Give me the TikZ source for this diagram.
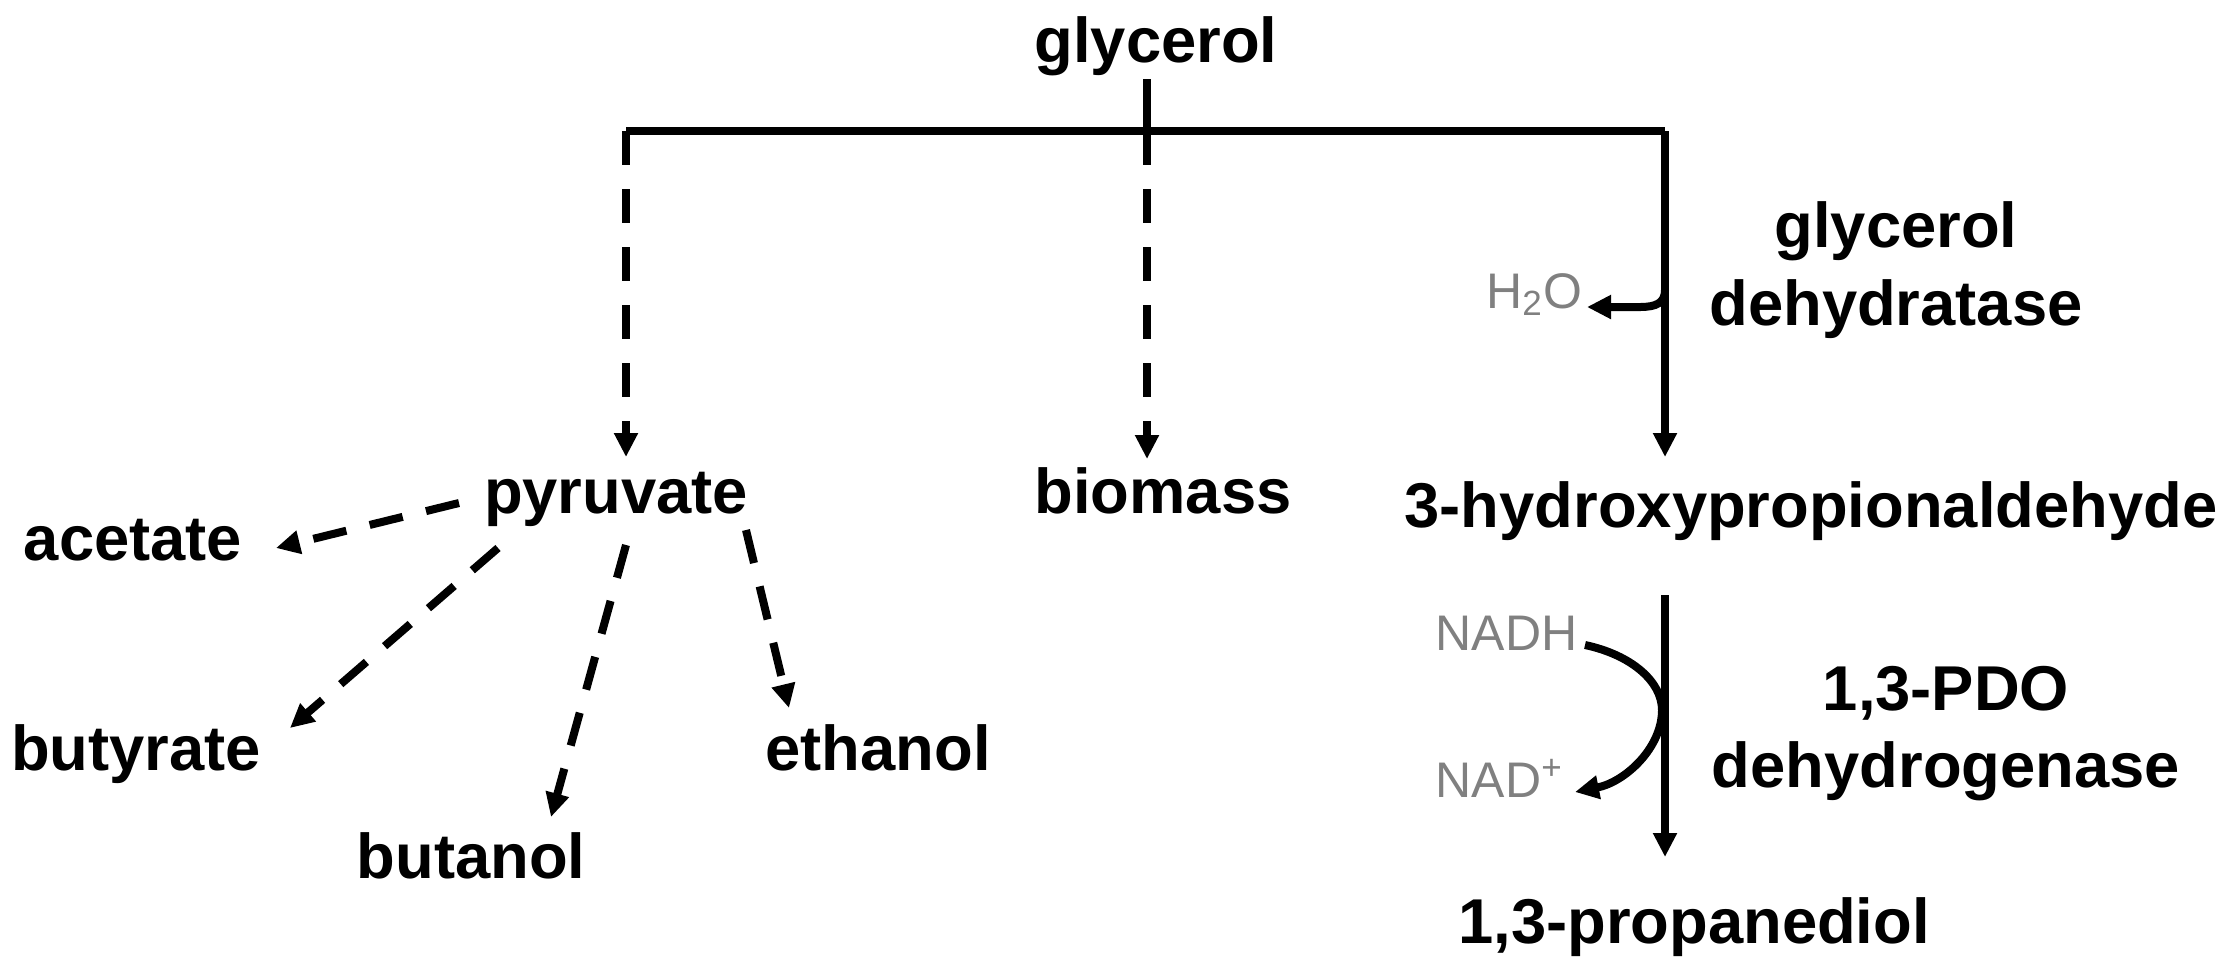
\documentclass[tikz,border=0pt]{standalone}
\usepackage{fontspec}
\setmainfont{Liberation Sans}
\usetikzlibrary{arrows.meta}
\definecolor{cofac}{RGB}{128,128,128}
\begin{document}
\begin{tikzpicture}[x=0.3pt,y=-0.3pt,
  lab/.style={font=\bfseries\fontsize{19}{23}\selectfont, inner sep=0pt, anchor=base},
  cof/.style={font=\fontsize{15}{18}\selectfont, text=cofac, inner sep=0pt},
  tip/.style={-{Triangle[width=6.8pt,length=7.2pt]}},
  flow/.style={line width=2.4pt, tip},
  dflow/.style={flow, dash pattern=on 10.2pt off 7.2pt},
  ]
\useasboundingbox (0,0) rectangle (2235,968);
% metabolites
\node[lab] (gly) at (1156,62) {glycerol};
\node[lab] (pyr) at (616,513) {pyruvate};
\node[lab] (bio) at (1163,513) {biomass};
\node[lab] (hpa) at (1811,527) {3-hydroxypropionaldehyde};
\node[lab] (pdo) at (1694,943) {1,3-propanediol};
\node[lab] (ace) at (133,560) {acetate};
\node[lab] (but) at (136,770) {butyrate};
\node[lab] (bol) at (471,878) {butanol};
\node[lab] (eth) at (878,770) {ethanol};
% enzymes
\node[lab] (gd1) at (1896,247) {glycerol};
\node[lab] (gd2) at (1896,325) {dehydratase};
\node[lab] (pd1) at (1946,710) {1,3-PDO};
\node[lab] (pd2) at (1946,787) {dehydrogenase};
% cofactors
\node[cof, anchor=base east] (h2o) at (1583,308) {H\textsubscript{2}O};
\node[cof, anchor=base west] (nadh) at (1435,650) {NADH};
\node[cof, anchor=base west] (nad) at (1435,797) {NAD\textsuperscript{+}};
% coordinates
\coordinate (glyOut) at (1147,79);
\coordinate (busL) at (626,131);
\coordinate (busM) at (1147,131);
\coordinate (busR) at (1665,131);
\coordinate (pyrIn) at (626,457);
\coordinate (bioIn) at (1147,459);
\coordinate (hpaIn) at (1665,457);
\coordinate (hpaOut) at (1665,595);
\coordinate (pdoIn) at (1665,857);
% trunk and bus
\draw[line width=2.4pt] (glyOut) -- (busM);
\draw[line width=2.6pt] (busL) -- (busR);
\draw[dflow] (busL) -- (pyrIn);
\draw[dflow] (busM) -- (bioIn);
\draw[flow] (busR) -- (hpaIn);
\draw[flow] (hpaOut) -- (pdoIn);
% pyruvate branches
\coordinate (pA) at (459,503); \coordinate (aIn) at (276,548);
\coordinate (pB) at (498,548); \coordinate (bIn) at (290,728);
\coordinate (pC) at (626,545); \coordinate (cIn) at (551,817);
\coordinate (pD) at (746,530); \coordinate (dIn) at (789,708);
\draw[dflow] (pA) -- (aIn);
\draw[dflow] (pB) -- (bIn);
\draw[dflow] (pC) -- (cIn);
\draw[dflow] (pD) -- (dIn);
% cofactor arrows
\coordinate (h2oIn) at (1587,307);
\draw[flow] (1665,290) .. controls (1665,303) and (1656,307) .. (1640,307) -- (h2oIn);
\coordinate (nadhOut) at (1585,645);
\coordinate (nadIn) at (1575,792);
\draw[flow] (nadhOut) .. controls (1632,655) and (1662,682) .. (1662,710)
  .. controls (1662,748) and (1625,782) .. (nadIn);
\end{tikzpicture}
\end{document}
